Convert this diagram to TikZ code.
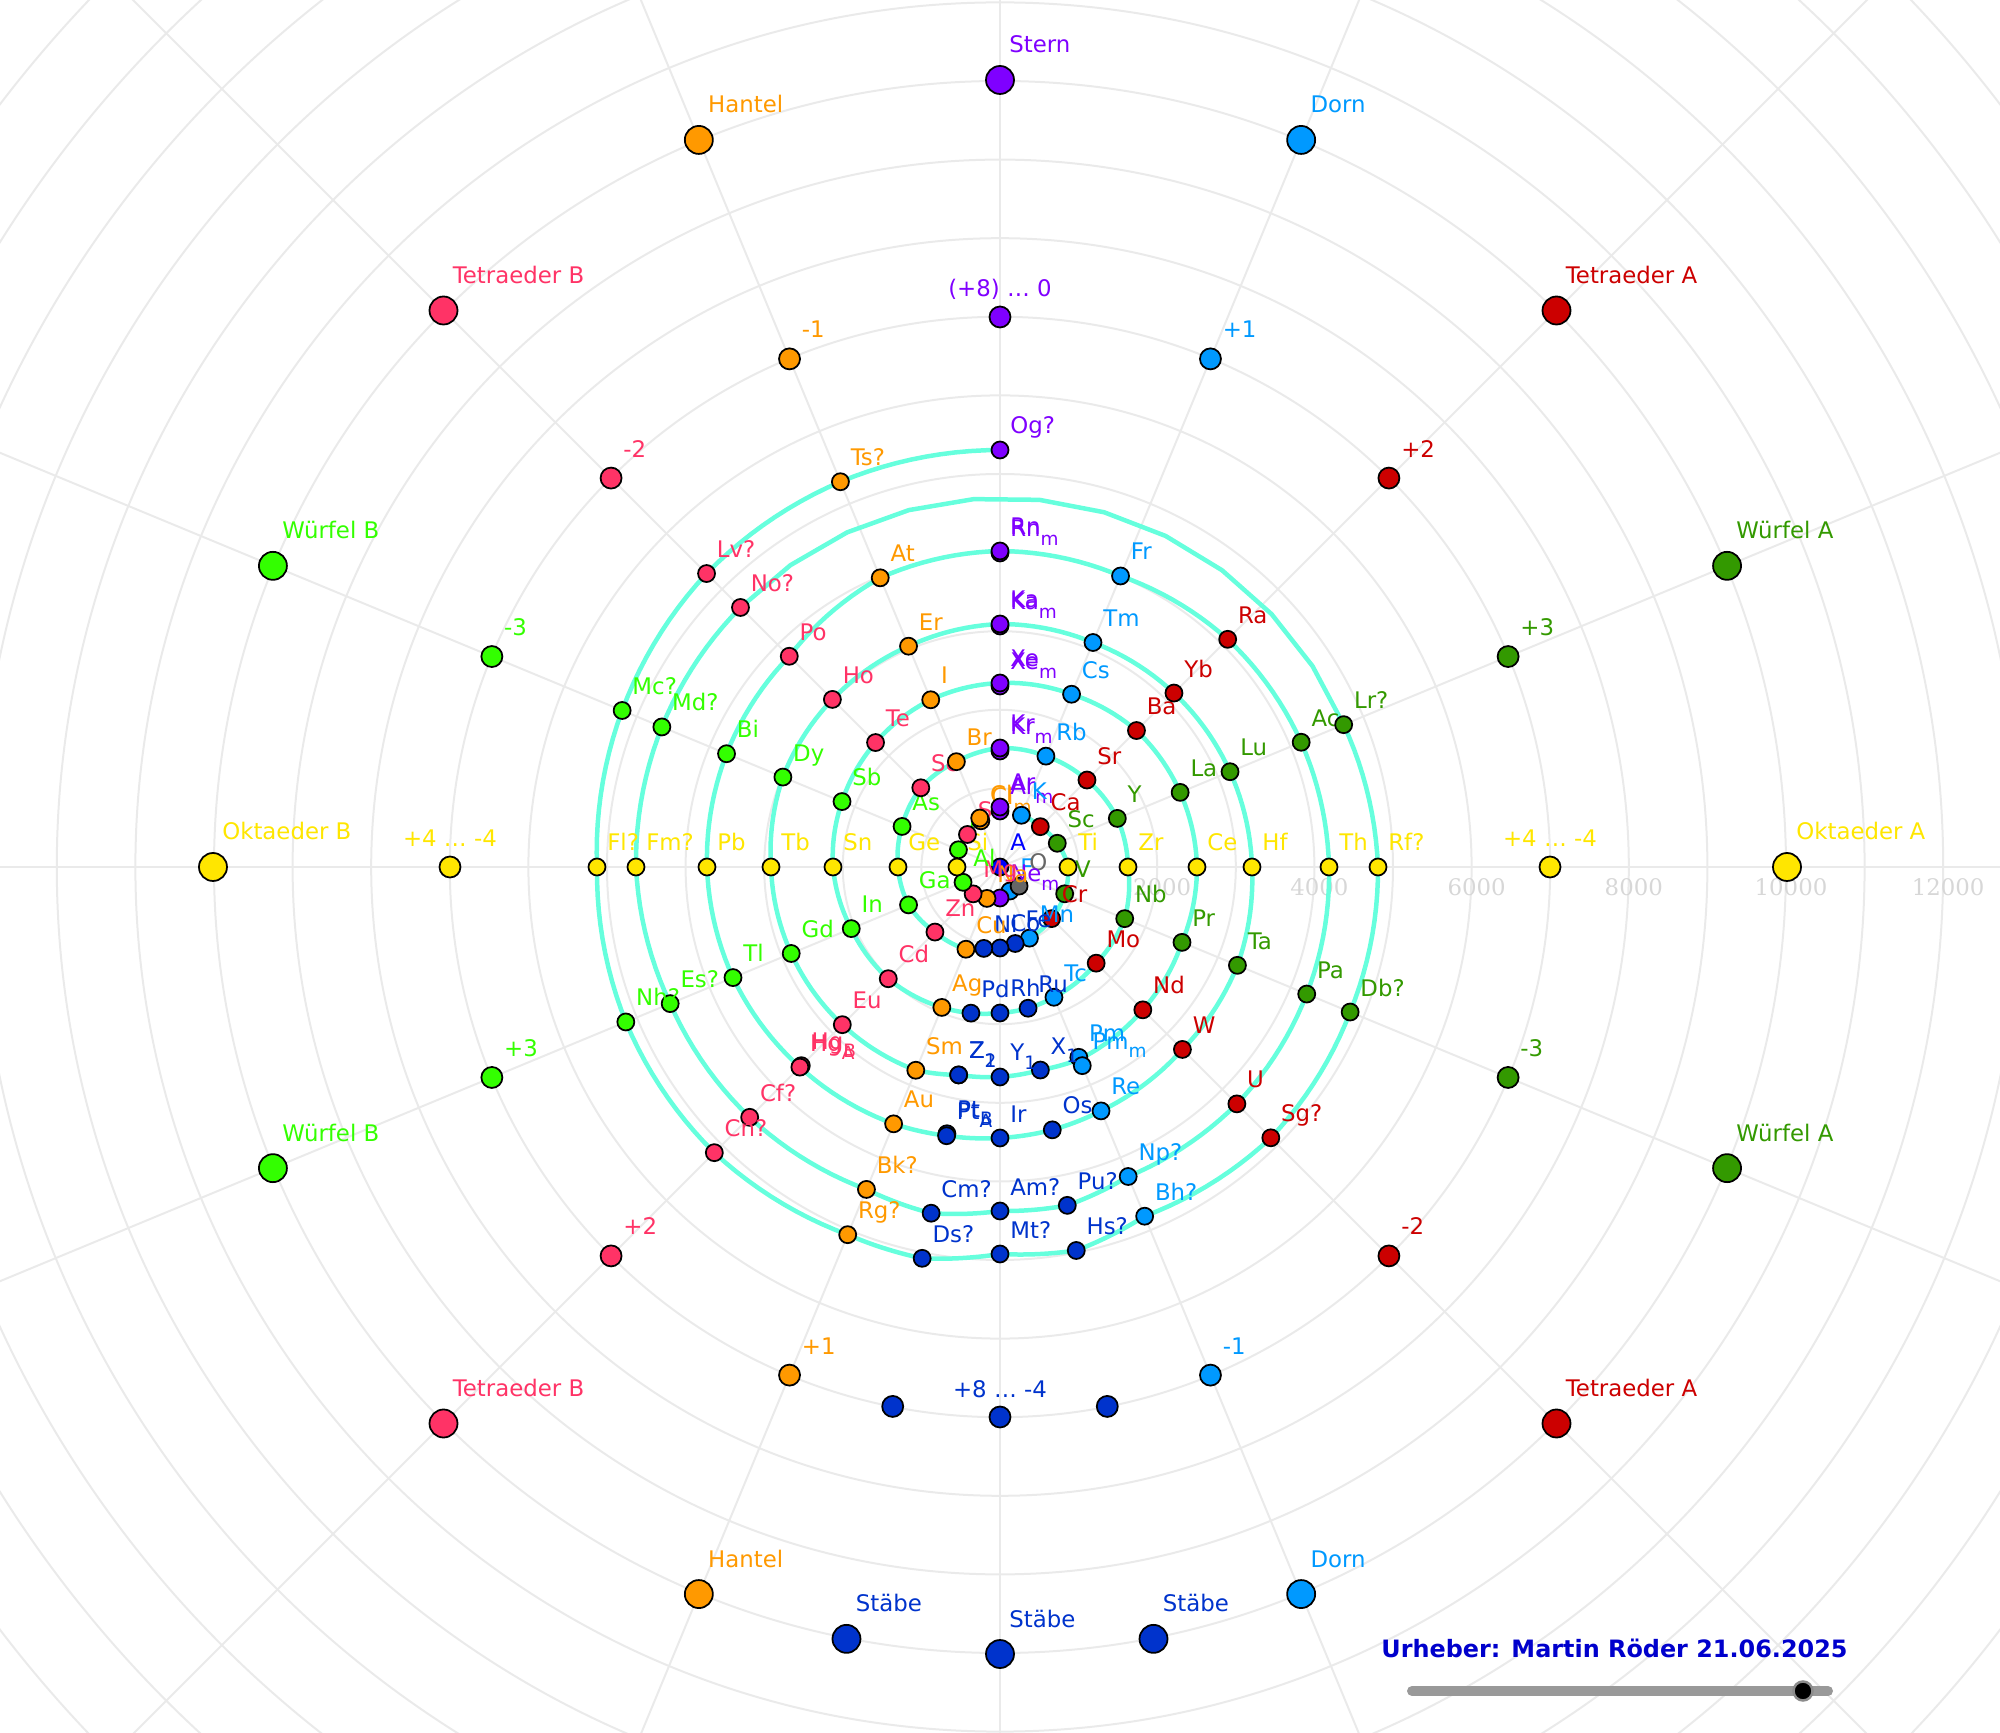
\documentclass[tikz,border=0pt]{standalone}
\usepackage{fontspec}
\setmainfont{DejaVu Sans}
\newfontfamily\axisfont{DejaVu Serif}
\usetikzlibrary{calc}
\definecolor{cSt}{RGB}{127,0,255}   % Stern
\definecolor{cDo}{RGB}{0,153,255}   % Dorn
\definecolor{cTA}{RGB}{204,0,0}     % Tetraeder A
\definecolor{cWA}{RGB}{51,153,0}    % Wuerfel A
\definecolor{cOk}{RGB}{255,230,0}   % Oktaeder
\definecolor{cSb}{RGB}{0,51,204}    % Staebe
\definecolor{cHa}{RGB}{255,153,0}   % Hantel
\definecolor{cTB}{RGB}{255,51,102}  % Tetraeder B
\definecolor{cWB}{RGB}{51,255,0}    % Wuerfel B
\definecolor{cGr}{RGB}{102,102,102}
\definecolor{cBl}{RGB}{0,0,255}
\definecolor{gridC}{RGB}{234,234,234}
\definecolor{tickC}{RGB}{215,215,215}
\definecolor{spiC}{RGB}{102,255,221}
\definecolor{authC}{RGB}{0,0,204}
\definecolor{sliderC}{RGB}{153,153,153}
% subscript of an element label
\newcommand{\elsub}[1]{\raisebox{-0.36em}{\fontsize{10.5}{12}\selectfont#1}}

\begin{document}
\begin{tikzpicture}[
  x=0.02cm, y=0.02cm,
  font=\fontsize{13}{15}\selectfont,
  gridln/.style={draw=gridC, line width=0.04cm},
  spiral/.style={draw=spiC, line width=0.09cm, line cap=round, line join=round},
  elpt/.style={circle, draw=black, line width=0.035cm, inner sep=0pt, minimum size=0.34cm},
  midpt/.style={elpt, minimum size=0.42cm},
  bigpt/.style={elpt, minimum size=0.56cm},
  ellab/.style={anchor=base west, inner sep=0pt},
  ticklab/.style={font=\axisfont\fontsize{13}{15}\selectfont, text=tickC, inner sep=0pt},
]
\useasboundingbox (-1000,-866) rectangle (1000,867);
\clip (-1000,-866) rectangle (1000,867);

% ============ polar grid ============
\foreach \k in {1,...,17}{\draw[gridln] (0,0) circle[radius=78.6*\k];}
\foreach \a in {0,22.5,...,337.5}{\draw[gridln] (0,0) -- ({90-\a}:1400);}
\foreach \v [count=\k] in {2000,4000,6000,8000,10000,12000}{
  \node[ticklab] (t\k) at ({157.2*\k+5},-20) {\v};}

% ============ spiral (angle clockwise from north, radius in px) ============
\foreach \t/\r [remember=\t as \tp (initially 22.5), remember=\r as \rp (initially 56)] in {
  22.5/56, 45/57, 67.5/62, 90/68, 112.5/70, 135/73, 157.5/77, 168.75/78, 180/81,
  191.25/83, 202.5/89, 225/92, 247.5/99, 270/102, 292.5/106, 315/112, 337.5/114, 360/119,
  382.5/120, 405/123, 427.5/127, 450/128, 472.5/135, 495/136, 517.5/141, 528.75/144,
  540/146, 551.25/149, 562.5/152, 585/158, 607.5/161, 630/167, 652.5/171, 675/176,
  697.5/181, 720/184,
  742.5/187, 765/193, 787.5/195, 810/197, 832.5/197, 855/202, 877.5/208, 888.75/207,
  900/210, 911.25/212, 922.5/220, 945/223, 967.5/226, 990/229, 1012.5/235, 1035/237,
  1057.5/239, 1080/243, 1102.5/243, 1125/246, 1147.5/249, 1170/252, 1192.5/257,
  1215/258, 1237.5/264, 1248.75/268, 1260/271, 1271.25/274, 1282.5/278, 1305/283,
  1327.5/289, 1350/293, 1372.5/296, 1395/298, 1417.5/313, 1440/316,
  1462.5/315, 1485/322, 1507.5/326, 1530/329, 1552.5/332, 1575/335, 1597.5/335,
  1608.75/345, 1620/344, 1631.25/353, 1642.5/349, 1665/354, 1687.5/357, 1710/364,
  1732.5/366, 1755/367, 1867.5/372, 1890/378, 1912.5/379, 1935/383, 1957.5/378,
  1968.75/391, 1980/387, 1991.25/399, 2002.5/398, 2025/404, 2047.5/405, 2070/403,
  2092.5/409, 2115/415, 2137.5/417, 2160/417}{
  \draw[spiral] plot[domain=0:1, samples=12, variable=\u]
    ({90-(\tp+\u*(\t-\tp))}:{\rp+\u*(\r-\rp)});}

% ============ elements ============
\foreach \id/\t/\r/\c/\lab in {
  hc/0/0/cBl/A, fl2/157.5/26/cDo/F, ox/135/27/cGr/O, ne/180/31/cSt/Ne\elsub{m},
  na/202.5/34/cHa/Na, mg/225/38/cTB/Mg, al/247.5/40/cWB/Al, si/270/43/cOk/Si,
  p/292.5/45/cWB/P, s/315/46/cTB/S, clm/337.5/50/cHa/Cl\elsub{m}, cl/337.5/53/cHa/Cl,
  arm/0/56/cSt/Ar\elsub{m}, ar/0/60/cSt/Ar,
  k/22.5/56/cDo/K, ca/45/57/cTA/Ca, sc/67.5/62/cWA/Sc, ti/90/68/cOk/Ti,
  v/112.5/70/cWA/V, cr/135/73/cTA/Cr, mn/157.5/77/cDo/Mn, fe/168.75/78/cSb/Fe,
  co/180/81/cSb/Co, ni/191.25/83/cSb/Ni, cu/202.5/89/cHa/Cu, zn/225/92/cTB/Zn,
  ga/247.5/99/cWB/Ga, ge/270/102/cOk/Ge, as/292.5/106/cWB/As, se/315/112/cTB/Se,
  br/337.5/114/cHa/Br, krm/0/116/cSt/Kr\elsub{m}, kr/0/119/cSt/Kr,
  rb/22.5/120/cDo/Rb, sr/45/123/cTA/Sr, y/67.5/127/cWA/Y, zr/90/128/cOk/Zr,
  nb/112.5/135/cWA/Nb, mo/135/136/cTA/Mo, tc/157.5/141/cDo/Tc, ru/168.75/144/cSb/Ru,
  rh/180/146/cSb/Rh, pd/191.25/149/cSb/Pd, ag/202.5/152/cHa/Ag, cd/225/158/cTB/Cd,
  in/247.5/161/cWB/In, sn/270/167/cOk/Sn, sb/292.5/171/cWB/Sb, te/315/176/cTB/Te,
  i/337.5/181/cHa/I, xem/0/181/cSt/Xe\elsub{m}, xe/0/184/cSt/Xe,
  cs/22.5/187/cDo/Cs, ba/45/193/cTA/Ba, la/67.5/195/cWA/La, ce/90/197/cOk/Ce,
  pr/112.5/197/cWA/Pr, nd/135/202/cTA/Nd, pm/157.5/206/cDo/Pm,
  pmm/157.5/215/cDo/Pm\elsub{m},
  xa/168.75/207/cSb/X\elsub{1}, ya/180/210/cSb/Y\elsub{1}, za/191.25/212/cSb/Z\elsub{1},
  zb/191.25/212/cSb/Z\elsub{2}, sm/202.5/220/cHa/Sm, eu/225/223/cTB/Eu, gd/247.5/226/cWB/Gd,
  tb/270/229/cOk/Tb, dy/292.5/235/cWB/Dy, ho/315/237/cTB/Ho, er/337.5/239/cHa/Er,
  kam/0/241/cSt/Ka\elsub{m}, ka/0/243/cSt/Ka,
  tm/22.5/243/cDo/Tm, yb/45/246/cTA/Yb, lu/67.5/249/cWA/Lu, hf/90/252/cOk/Hf,
  ta/112.5/257/cWA/Ta, w/135/258/cTA/W, re/157.5/264/cDo/Re, os/168.75/268/cSb/Os,
  ir/180/271/cSb/Ir, ptb/191.25/272/cSb/Pt\elsub{B}, pta/191.25/274/cSb/Pt\elsub{A},
  au/202.5/278/cHa/Au, hgb/225/281/cTB/Hg\elsub{B}, hga/225/283/cTB/Hg\elsub{A},
  tl/247.5/289/cWB/Tl, pb/270/293/cOk/Pb, bi/292.5/296/cWB/Bi, po/315/298/cTB/Po,
  at/337.5/313/cHa/At, rnm/0/314/cSt/Rn\elsub{m}, rn/0/316/cSt/Rn,
  fr/22.5/315/cDo/Fr, ra/45/322/cTA/Ra, ac/67.5/326/cWA/Ac, th/90/329/cOk/Th,
  pa/112.5/332/cWA/Pa, u/135/335/cTA/U, np/157.5/335/cDo/Np?, pu/168.75/345/cSb/Pu?,
  am/180/344/cSb/Am?, cm/191.25/353/cSb/Cm?, bk/202.5/349/cHa/Bk?, cf/225/354/cTB/Cf?,
  es/247.5/357/cWB/Es?, fm/270/364/cOk/Fm?, md/292.5/366/cWB/Md?, no/315/367/cTB/No?,
  lr/67.5/372/cWA/Lr?, rf/90/378/cOk/Rf?, db/112.5/379/cWA/Db?, sg/135/383/cTA/Sg?,
  bh/157.5/378/cDo/Bh?, hs/168.75/391/cSb/Hs?, mt/180/387/cSb/Mt?, ds/191.25/399/cSb/Ds?,
  rg/202.5/398/cHa/Rg?, cn/225/404/cTB/Cn?, nh/247.5/405/cWB/Nh?, fl/270/403/cOk/Fl?,
  mc/292.5/409/cWB/Mc?, lv/315/415/cTB/Lv?, ts/337.5/417/cHa/Ts?, og/0/417/cSt/Og?}{
  \node[elpt, fill=\c] (e\id) at ({90-\t}:\r) {};
  \node[ellab, text=\c] (l\id) at ($(e\id)+(10,16)$) {\lab};}

% ============ charge markers (r = 550) ============
\foreach \id/\t/\c/\lab in {
  a/22.5/cDo/+1, b/45/cTA/+2, c/67.5/cWA/+3, d/112.5/cWA/-3, e/135/cTA/-2,
  f/157.5/cDo/-1, g/202.5/cHa/+1, h/225/cTB/+2, i/247.5/cWB/+3, j/292.5/cWB/-3,
  k/315/cTB/-2, l/337.5/cHa/-1}{
  \node[midpt, fill=\c] (m\id) at ({90-\t}:550) {};
  \node[ellab, text=\c] (ml\id) at ($(m\id)+(12,21)$) {\lab};}
\foreach \id/\t/\c/\lab in {
  n/0/cSt/{(+8) … 0}, o/90/cOk/{+4 … -4}, q/180/cSb/{+8 … -4}, r/270/cOk/{+4 … -4}}{
  \node[midpt, fill=\c] (m\id) at ({90-\t}:550) {};
  \node[anchor=base, inner sep=0pt, text=\c] (ml\id) at ($(m\id)+(0,20)$) {\lab};}
\node[midpt, fill=cSb] (ms1) at ({90-168.75}:550) {};
\node[midpt, fill=cSb] (ms2) at ({90-191.25}:550) {};

% ============ shape markers (r = 787) ============
\foreach \id/\t/\c/\lab in {
  a/0/cSt/Stern, b/22.5/cDo/Dorn, c/45/cTA/Tetraeder A, d/67.5/cWA/Würfel A,
  e/90/cOk/Oktaeder A, f/112.5/cWA/Würfel A, g/135/cTA/Tetraeder A, h/157.5/cDo/Dorn,
  i/168.75/cSb/Stäbe, j/180/cSb/Stäbe, k/191.25/cSb/Stäbe, l/202.5/cHa/Hantel,
  m/225/cTB/Tetraeder B, n/247.5/cWB/Würfel B, o/270/cOk/Oktaeder B,
  q/292.5/cWB/Würfel B, r/315/cTB/Tetraeder B, s/337.5/cHa/Hantel}{
  \node[bigpt, fill=\c] (s\id) at ({90-\t}:787) {};
  \node[ellab, text=\c] (sl\id) at ($(s\id)+(9,27)$) {\lab};}

% ============ author + slider ============
\node[ellab, text=authC, font=\bfseries\fontsize{13.6}{16}\selectfont] (auth) at (381,-790)
  {Urheber: Martin Röder 21.06.2025};
\coordinate (sl0) at (412,-824);
\coordinate (sl1) at (828,-824);
\draw[draw=sliderC, line width=0.2cm, line cap=round] (sl0) -- (sl1);
\node[circle, fill=black, draw=black!45, line width=0.05cm, inner sep=0pt,
  minimum size=0.38cm] (knob) at (803,-824) {};
\end{tikzpicture}
\end{document}
